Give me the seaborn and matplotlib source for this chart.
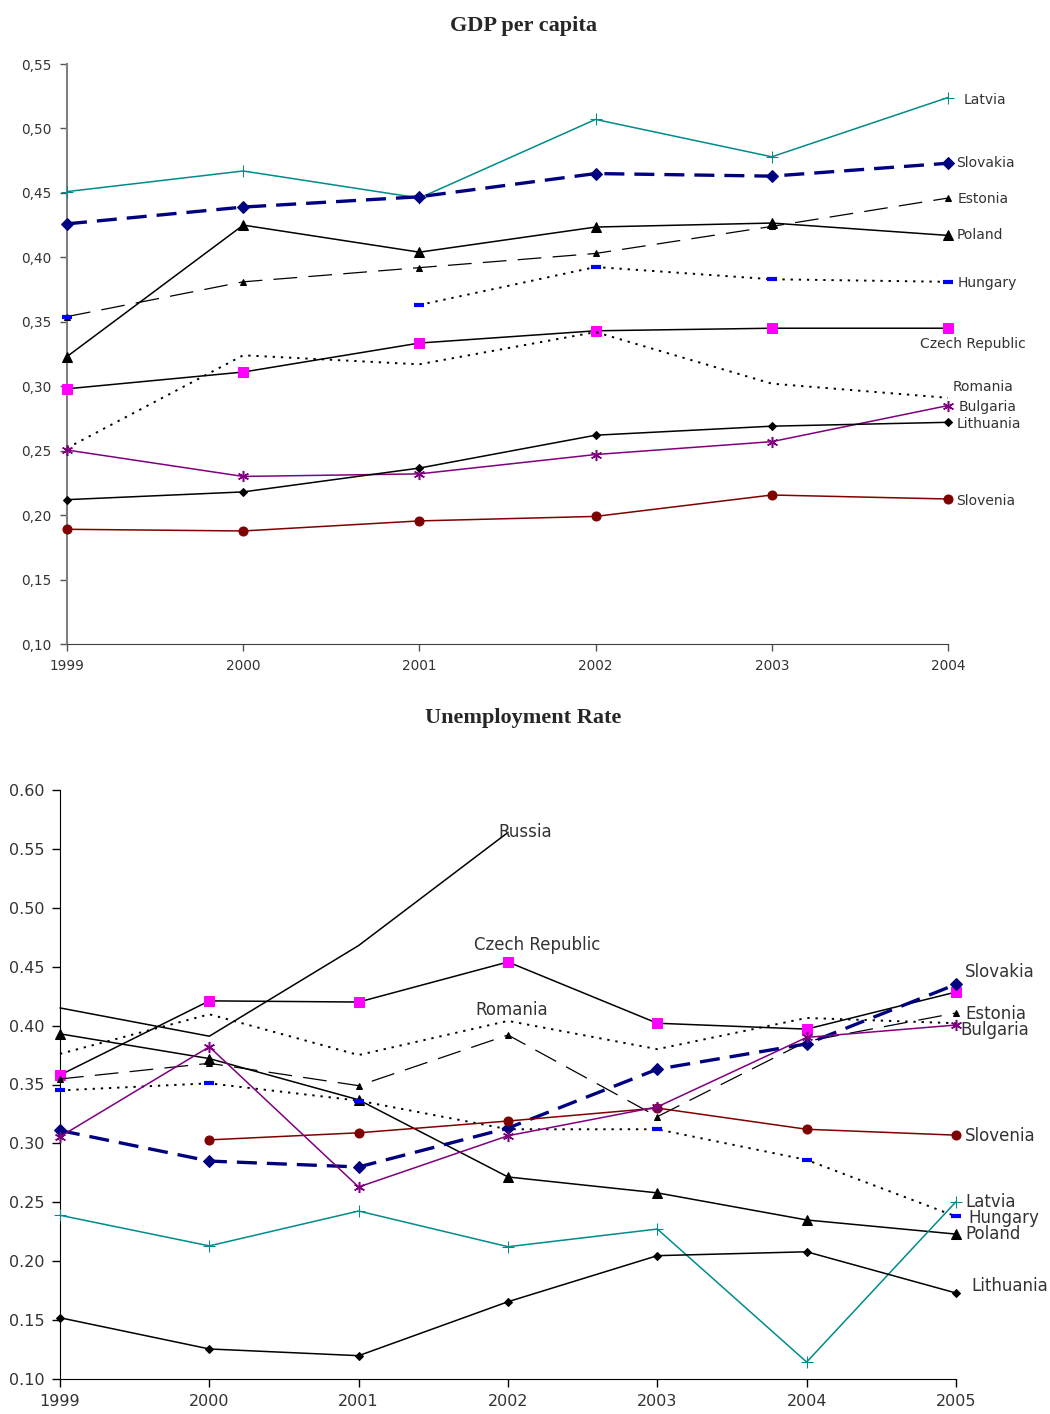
import numpy as np
import pandas as pd
import matplotlib
matplotlib.use("Agg")
import matplotlib.pyplot as plt
from matplotlib.ticker import FuncFormatter, MultipleLocator
import seaborn as sns

sns.set_style("white")
plt.rcParams['font.family'] = ['DejaVu Sans']

nan = np.nan

# GDP per capita (1999-2004)
gdp_years = [1999, 2000, 2001, 2002, 2003, 2004]
gdp = {
    "Latvia":         [0.451, 0.467, 0.446, 0.507, 0.478, 0.524],
    "Slovakia":       [0.426, 0.439, 0.447, 0.465, 0.463, 0.473],
    "Estonia":        [0.354, 0.381, 0.392, 0.403, 0.424, 0.446],
    "Poland":         [0.323, 0.425, 0.404, 0.4235, 0.4266, 0.417],
    "Hungary":        [0.354, nan, 0.363, 0.3925, 0.383, 0.381],
    "Czech Republic": [0.298, 0.311, 0.3335, 0.343, 0.345, 0.345],
    "Romania":        [0.252, 0.324, 0.317, 0.342, 0.302, 0.291],
    "Bulgaria":       [0.2505, 0.230, 0.232, 0.247, 0.257, 0.285],
    "Lithuania":      [0.212, 0.218, 0.2365, 0.262, 0.269, 0.272],
    "Slovenia":       [0.189, 0.1877, 0.1955, 0.199, 0.2156, 0.2125],
}

# Unemployment rate (1999-2005)
unemp_years = [1999, 2000, 2001, 2002, 2003, 2004, 2005]
unemp = {
    "Russia":         [0.415, 0.391, 0.468, 0.564, nan, nan, nan],
    "Czech Republic": [0.358, 0.421, 0.420, 0.454, 0.402, 0.397, 0.4285],
    "Romania":        [0.376, 0.4096, 0.375, 0.404, 0.380, 0.4065, 0.402],
    "Estonia":        [0.3547, 0.368, 0.349, 0.392, 0.3227, 0.3866, 0.4107],
    "Poland":         [0.393, 0.372, 0.337, 0.2715, 0.258, 0.235, 0.223],
    "Hungary":        [0.345, 0.351, 0.3363, 0.312, 0.312, 0.286, 0.238],
    "Slovakia":       [0.311, 0.285, 0.280, 0.313, 0.363, 0.3845, 0.435],
    "Slovenia":       [nan, 0.303, 0.309, 0.319, 0.330, 0.312, 0.307],
    "Bulgaria":       [0.3057, 0.382, 0.263, 0.3065, 0.331, 0.390, 0.4005],
    "Latvia":         [0.239, 0.213, 0.2426, 0.2123, 0.2273, 0.1144, 0.2505],
    "Lithuania":      [0.152, 0.1255, 0.1198, 0.1656, 0.2047, 0.208, 0.173],
}

asterisk = (6, 2, 0)
styles = {
    "Latvia":   dict(color="#008B8B", marker="+", markersize=8, linewidth=1.1),
    "Slovakia": dict(color="#000080", marker="D", markersize=6.5, linewidth=2.4,
                     linestyle=(0, (6, 3))),
    "Estonia":  dict(color="black", marker="^", markersize=4, linewidth=0.9,
                     linestyle=(0, (19, 9))),
    "Poland":   dict(color="black", marker="^", markersize=6.5, linewidth=1.1),
    "Hungary":  dict(color="black", linewidth=1.4, linestyle=(0, (1.2, 3)),
                     marker="_", markersize=7, markeredgewidth=3,
                     markeredgecolor="#0000FF"),
    "Czech Republic": dict(color="black", marker="s", markersize=6.5, linewidth=1.1,
                           markerfacecolor="#FF00FF", markeredgecolor="#FF00FF"),
    "Romania":  dict(color="black", linewidth=1.4, linestyle=(0, (1.2, 3))),
    "Bulgaria": dict(color="#800080", marker=asterisk, markersize=8, linewidth=1.1,
                     markeredgewidth=1.1),
    "Lithuania": dict(color="black", marker="D", markersize=4.5, linewidth=1.1),
    "Slovenia": dict(color="#800000", marker="o", markersize=6.5, linewidth=1.1),
    "Russia":   dict(color="black", linewidth=1.1),
}

# label offsets in points relative to the anchor point
gdp_labels = {
    "Latvia": (11, -1.5, "left"), "Slovakia": (6, 0, "left"),
    "Estonia": (7, -1, "left"), "Poland": (6, 0, "left"),
    "Hungary": (7, -1, "left"), "Czech Republic": (-20, -11, "left"),
    "Romania": (3, 8, "left"), "Bulgaria": (8, -1, "left"),
    "Lithuania": (6, -1, "left"), "Slovenia": (6, -1.5, "left"),
}
unemp_labels = {
    "Slovakia": (6.5, 9, "left"), "Estonia": (6.5, -0.5, "left"),
    "Bulgaria": (3, -3.5, "left"), "Slovenia": (6.5, -0.5, "left"),
    "Latvia": (7, -0.5, "left"), "Hungary": (9, -1, "left"),
    "Poland": (6.5, 0, "left"), "Lithuania": (11, 5, "left"),
    "Russia": (-7, 0, "left"), "Czech Republic": (21, 12, "center"),
    "Romania": (3, 8, "center"),
}
unemp_label_year = {"Russia": 2002, "Czech Republic": 2002, "Romania": 2002}


def draw(ax, years, data, labels, label_year, fsize):
    for name, vals in data.items():
        st = dict(styles[name])
        col = st["color"]
        st.setdefault("markeredgecolor", col)
        st.setdefault("markerfacecolor", col)
        df = pd.DataFrame({"year": years, "value": vals})
        grp = df["value"].isna().cumsum()
        for _, seg in df.dropna().groupby(grp[df["value"].notna()]):
            sns.lineplot(data=seg, x="year", y="value", ax=ax, legend=False,
                         clip_on=False, zorder=3, **st)
        yr = label_year.get(name, years[-1])
        val = vals[years.index(yr)]
        dx, dy, ha = labels[name]
        ax.annotate(name, xy=(yr, val), xytext=(dx, dy), textcoords="offset points",
                    ha=ha, va="center", fontsize=fsize, color="#333333")


fig = plt.figure(figsize=(10.5, 14.14), dpi=100)

# top chart
ax1 = fig.add_axes([67 / 1050, 1 - 644 / 1414, (948 - 67) / 1050, (644 - 64) / 1414])
draw(ax1, gdp_years, gdp, gdp_labels, {}, 10)
ax1.set_xlim(1999, 2004)
ax1.set_ylim(0.10, 0.55)
ax1.yaxis.set_major_locator(MultipleLocator(0.05))
ax1.yaxis.set_major_formatter(FuncFormatter(lambda v, p: f"{v:.2f}".replace(".", ",")))
ax1.set_xticks(gdp_years)
ax1.set_xticklabels([str(y) for y in gdp_years])
for s in ["top", "right"]:
    ax1.spines[s].set_visible(False)
ax1.spines["left"].set_color("#808080")
ax1.spines["bottom"].set_color("#404040")
ax1.spines["left"].set_linewidth(1.5)
ax1.tick_params(axis="both", which="both", direction="out", length=5, width=1,
                labelsize=9.8, colors="#555555", pad=6, left=True, bottom=True)
ax1.tick_params(axis="both", labelcolor="#333333")
ax1.set_xlabel("")
ax1.set_ylabel("")
fig.text(523 / 1050, 1 - 26 / 1414, "GDP per capita", ha="center", va="center",
         fontsize=16, fontweight="bold", family="Liberation Serif")

# bottom chart
ax2 = fig.add_axes([60 / 1050, 1 - 1379 / 1414, (956 - 60) / 1050, (1379 - 790) / 1414])
draw(ax2, unemp_years, unemp, unemp_labels, unemp_label_year, 12)
ax2.set_xlim(1999, 2005)
ax2.set_ylim(0.10, 0.60)
ax2.yaxis.set_major_locator(MultipleLocator(0.05))
ax2.yaxis.set_major_formatter(FuncFormatter(lambda v, p: f"{v:.2f}"))
ax2.set_xticks(unemp_years)
ax2.set_xticklabels([str(y) for y in unemp_years])
for s in ["top", "right"]:
    ax2.spines[s].set_visible(False)
ax2.spines["left"].set_color("black")
ax2.spines["bottom"].set_color("black")
ax2.tick_params(axis="both", which="both", direction="out", length=6, width=1,
                labelsize=11.5, colors="black", pad=5, left=True, bottom=True)
ax2.tick_params(axis="both", labelcolor="#333333")
ax2.set_xlabel("")
ax2.set_ylabel("")
fig.text(523 / 1050, 1 - 718 / 1414, "Unemployment Rate", ha="center", va="center",
         fontsize=16, fontweight="bold", family="Liberation Serif")

fig.savefig("out.png", dpi=100)
